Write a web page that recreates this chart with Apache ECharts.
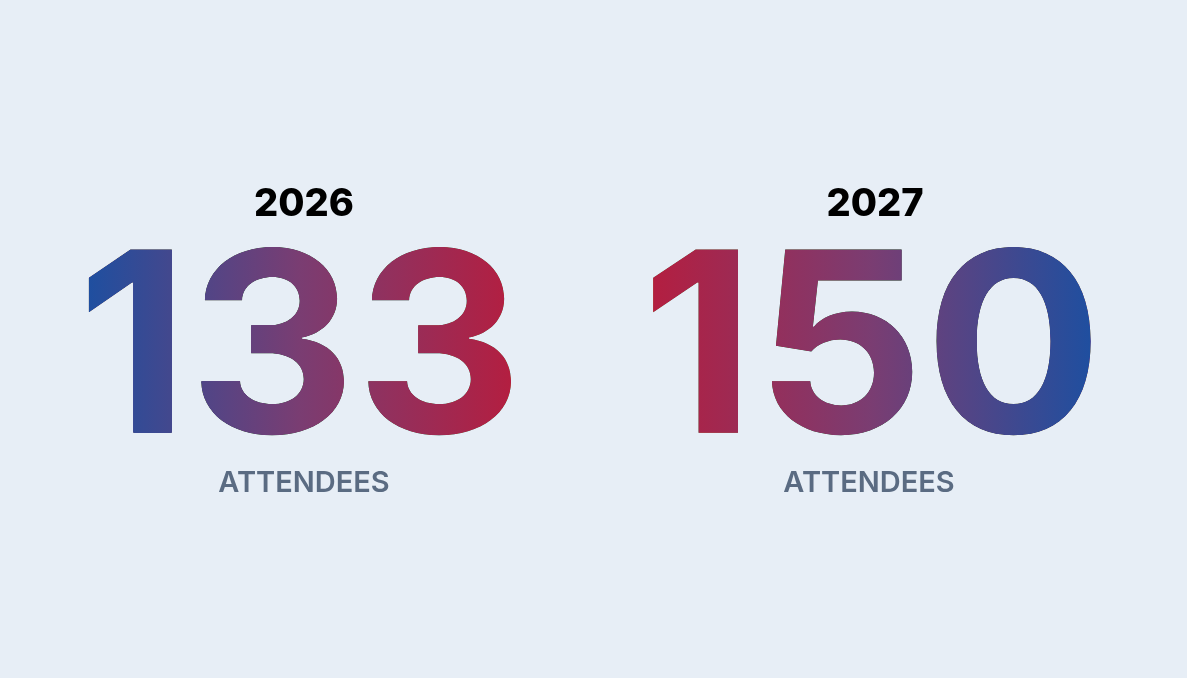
<!DOCTYPE html>
<html><head><meta charset="utf-8">
<style>html,body{margin:0;padding:0;background:#E7EEF6;}#c{width:1187px;height:678px;}</style>
<script src="https://cdn.jsdelivr.net/npm/echarts@6/dist/echarts.min.js"></script>
</head><body><div id="c"></div>
<script>
var years = ['2026', '2027'];
var attendees = [133, 150];
var unitLabel = 'ATTENDEES';
var blue = '#1E4FA0', mid = '#7A3D72', red = '#B41E40';

var chart = echarts.init(document.getElementById('c'));
var centers = [300, 872];
var labelCenters = [304, 869];
var halfWidths = [214, 222];
var stretch = [1.027, 1.05];
var elements = [];
years.forEach(function (y, i) {
  var cx = centers[i];
  var stops = i === 0
    ? [{offset: 0, color: blue}, {offset: 0.5, color: mid}, {offset: 1, color: red}]
    : [{offset: 0, color: red}, {offset: 0.5, color: mid}, {offset: 1, color: blue}];
  elements.push({
    type: 'text', x: labelCenters[i] + (i === 0 ? 0 : 6), y: 205, z: 1,
    style: {text: y, font: '800 38px Inter', fill: '#000', align: 'center', verticalAlign: 'middle'}
  });
  elements.push({
    type: 'text', x: cx, y: 357, z: 1, scaleX: stretch[i],
    style: {text: String(attendees[i]), font: '700 252px Inter', fill: '#000', align: 'center', verticalAlign: 'middle'}
  });
  // gradient overlay: 'lighten' keeps the light background, colours the black digits
  elements.push({
    type: 'rect', z: 2, silent: true,
    shape: {x: cx - halfWidths[i], y: 236, width: halfWidths[i] * 2, height: 210},
    style: {fill: new echarts.graphic.LinearGradient(0, 0, 1, 0, stops), blend: 'lighten'}
  });
  elements.push({
    type: 'text', x: labelCenters[i], y: 483, z: 1,
    style: {text: unitLabel, font: '600 29px Inter', fill: '#5A6B82', align: 'center', verticalAlign: 'middle'}
  });
});
chart.setOption({backgroundColor: '#E7EEF6', graphic: {elements: elements}});
</script></body></html>
